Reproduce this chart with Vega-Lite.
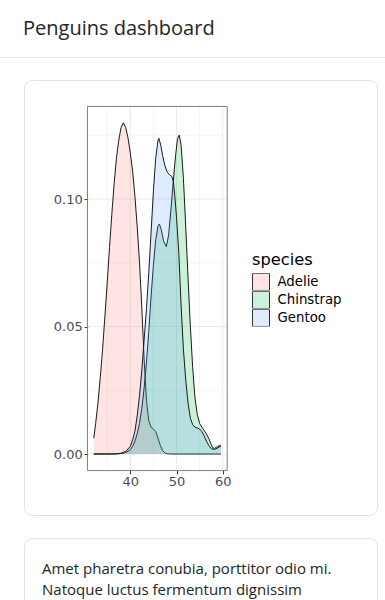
{
  "$schema": "https://vega.github.io/schema/vega-lite/v6.json",
  "background": "white",
  "padding": {"left": 0, "top": 19, "right": 0, "bottom": 0},
  "spacing": 21,
  "config": {"view": {"stroke": null}, "font": "DejaVu Sans"},
  "datasets": {
    "dens": [
      {"species": "Adelie", "x": 32.1, "density": 0.0062},
      {"species": "Adelie", "x": 32.5, "density": 0.012},
      {"species": "Adelie", "x": 33, "density": 0.02},
      {"species": "Adelie", "x": 33.5, "density": 0.03},
      {"species": "Adelie", "x": 34, "density": 0.041},
      {"species": "Adelie", "x": 34.5, "density": 0.054},
      {"species": "Adelie", "x": 35, "density": 0.067},
      {"species": "Adelie", "x": 35.5, "density": 0.081},
      {"species": "Adelie", "x": 36, "density": 0.094},
      {"species": "Adelie", "x": 36.5, "density": 0.106},
      {"species": "Adelie", "x": 37, "density": 0.116},
      {"species": "Adelie", "x": 37.5, "density": 0.123},
      {"species": "Adelie", "x": 38, "density": 0.128},
      {"species": "Adelie", "x": 38.5, "density": 0.1299},
      {"species": "Adelie", "x": 39, "density": 0.128},
      {"species": "Adelie", "x": 39.5, "density": 0.124},
      {"species": "Adelie", "x": 40, "density": 0.118},
      {"species": "Adelie", "x": 40.5, "density": 0.111},
      {"species": "Adelie", "x": 41, "density": 0.101},
      {"species": "Adelie", "x": 41.5, "density": 0.089},
      {"species": "Adelie", "x": 42, "density": 0.075},
      {"species": "Adelie", "x": 42.5, "density": 0.057},
      {"species": "Adelie", "x": 43, "density": 0.037},
      {"species": "Adelie", "x": 43.5, "density": 0.021},
      {"species": "Adelie", "x": 44, "density": 0.013},
      {"species": "Adelie", "x": 44.5, "density": 0.0105},
      {"species": "Adelie", "x": 45, "density": 0.0098},
      {"species": "Adelie", "x": 45.5, "density": 0.0088},
      {"species": "Adelie", "x": 46, "density": 0.0062},
      {"species": "Adelie", "x": 46.5, "density": 0.0033},
      {"species": "Adelie", "x": 47, "density": 0.0013},
      {"species": "Adelie", "x": 47.5, "density": 0.0004},
      {"species": "Adelie", "x": 48, "density": 0.0001},
      {"species": "Adelie", "x": 49, "density": 0},
      {"species": "Adelie", "x": 54, "density": 0},
      {"species": "Adelie", "x": 59.6, "density": 0},
      {"species": "Chinstrap", "x": 32.1, "density": 0},
      {"species": "Chinstrap", "x": 37, "density": 0},
      {"species": "Chinstrap", "x": 38, "density": 0.0002},
      {"species": "Chinstrap", "x": 39, "density": 0.0006},
      {"species": "Chinstrap", "x": 40, "density": 0.0017},
      {"species": "Chinstrap", "x": 40.5, "density": 0.003},
      {"species": "Chinstrap", "x": 41, "density": 0.005},
      {"species": "Chinstrap", "x": 41.5, "density": 0.008},
      {"species": "Chinstrap", "x": 42, "density": 0.012},
      {"species": "Chinstrap", "x": 42.5, "density": 0.018},
      {"species": "Chinstrap", "x": 43, "density": 0.026},
      {"species": "Chinstrap", "x": 43.5, "density": 0.036},
      {"species": "Chinstrap", "x": 44, "density": 0.048},
      {"species": "Chinstrap", "x": 44.5, "density": 0.062},
      {"species": "Chinstrap", "x": 45, "density": 0.074},
      {"species": "Chinstrap", "x": 45.5, "density": 0.084},
      {"species": "Chinstrap", "x": 46, "density": 0.0895},
      {"species": "Chinstrap", "x": 46.3, "density": 0.0902},
      {"species": "Chinstrap", "x": 46.7, "density": 0.088},
      {"species": "Chinstrap", "x": 47.2, "density": 0.0835},
      {"species": "Chinstrap", "x": 47.8, "density": 0.0813},
      {"species": "Chinstrap", "x": 48.3, "density": 0.086},
      {"species": "Chinstrap", "x": 48.8, "density": 0.096},
      {"species": "Chinstrap", "x": 49.3, "density": 0.107},
      {"species": "Chinstrap", "x": 49.8, "density": 0.117},
      {"species": "Chinstrap", "x": 50.2, "density": 0.1235},
      {"species": "Chinstrap", "x": 50.6, "density": 0.1251},
      {"species": "Chinstrap", "x": 51, "density": 0.121},
      {"species": "Chinstrap", "x": 51.5, "density": 0.108},
      {"species": "Chinstrap", "x": 52, "density": 0.089},
      {"species": "Chinstrap", "x": 52.5, "density": 0.069},
      {"species": "Chinstrap", "x": 53, "density": 0.05},
      {"species": "Chinstrap", "x": 53.5, "density": 0.034},
      {"species": "Chinstrap", "x": 54, "density": 0.022},
      {"species": "Chinstrap", "x": 54.5, "density": 0.0155},
      {"species": "Chinstrap", "x": 55, "density": 0.012},
      {"species": "Chinstrap", "x": 55.5, "density": 0.0105},
      {"species": "Chinstrap", "x": 56, "density": 0.0092},
      {"species": "Chinstrap", "x": 56.5, "density": 0.0078},
      {"species": "Chinstrap", "x": 57, "density": 0.006},
      {"species": "Chinstrap", "x": 57.5, "density": 0.0038},
      {"species": "Chinstrap", "x": 57.8, "density": 0.0025},
      {"species": "Chinstrap", "x": 58.2, "density": 0.0022},
      {"species": "Chinstrap", "x": 58.7, "density": 0.0027},
      {"species": "Chinstrap", "x": 59.2, "density": 0.0032},
      {"species": "Chinstrap", "x": 59.6, "density": 0.0035},
      {"species": "Gentoo", "x": 32.1, "density": 0},
      {"species": "Gentoo", "x": 36, "density": 0},
      {"species": "Gentoo", "x": 37, "density": 0.0001},
      {"species": "Gentoo", "x": 38, "density": 0.0003},
      {"species": "Gentoo", "x": 39, "density": 0.001},
      {"species": "Gentoo", "x": 40, "density": 0.003},
      {"species": "Gentoo", "x": 40.5, "density": 0.0055},
      {"species": "Gentoo", "x": 41, "density": 0.009},
      {"species": "Gentoo", "x": 41.5, "density": 0.015},
      {"species": "Gentoo", "x": 42, "density": 0.023},
      {"species": "Gentoo", "x": 42.5, "density": 0.033},
      {"species": "Gentoo", "x": 43, "density": 0.045},
      {"species": "Gentoo", "x": 43.5, "density": 0.057},
      {"species": "Gentoo", "x": 44, "density": 0.071},
      {"species": "Gentoo", "x": 44.5, "density": 0.087},
      {"species": "Gentoo", "x": 45, "density": 0.103},
      {"species": "Gentoo", "x": 45.5, "density": 0.116},
      {"species": "Gentoo", "x": 46, "density": 0.1232},
      {"species": "Gentoo", "x": 46.2, "density": 0.1238},
      {"species": "Gentoo", "x": 46.6, "density": 0.121},
      {"species": "Gentoo", "x": 47, "density": 0.117},
      {"species": "Gentoo", "x": 47.5, "density": 0.113},
      {"species": "Gentoo", "x": 48, "density": 0.1105},
      {"species": "Gentoo", "x": 48.5, "density": 0.1095},
      {"species": "Gentoo", "x": 49, "density": 0.1088},
      {"species": "Gentoo", "x": 49.3, "density": 0.107},
      {"species": "Gentoo", "x": 49.6, "density": 0.102},
      {"species": "Gentoo", "x": 50, "density": 0.093},
      {"species": "Gentoo", "x": 50.5, "density": 0.079},
      {"species": "Gentoo", "x": 51, "density": 0.058},
      {"species": "Gentoo", "x": 51.5, "density": 0.041},
      {"species": "Gentoo", "x": 52, "density": 0.029},
      {"species": "Gentoo", "x": 52.5, "density": 0.02},
      {"species": "Gentoo", "x": 53, "density": 0.014},
      {"species": "Gentoo", "x": 53.5, "density": 0.0115},
      {"species": "Gentoo", "x": 54, "density": 0.0105},
      {"species": "Gentoo", "x": 54.5, "density": 0.0102},
      {"species": "Gentoo", "x": 55, "density": 0.0098},
      {"species": "Gentoo", "x": 55.5, "density": 0.0088},
      {"species": "Gentoo", "x": 56, "density": 0.007},
      {"species": "Gentoo", "x": 56.5, "density": 0.005},
      {"species": "Gentoo", "x": 57, "density": 0.0033},
      {"species": "Gentoo", "x": 57.5, "density": 0.0022},
      {"species": "Gentoo", "x": 58, "density": 0.0018},
      {"species": "Gentoo", "x": 58.5, "density": 0.002},
      {"species": "Gentoo", "x": 59, "density": 0.0025},
      {"species": "Gentoo", "x": 59.6, "density": 0.003}
    ],
    "gxmaj": [{"v": 40}, {"v": 50}, {"v": 60}],
    "gxmin": [{"v": 35}, {"v": 45}, {"v": 55}],
    "gymaj": [{"v": 0}, {"v": 0.05}, {"v": 0.1}],
    "gymin": [{"v": 0.025}, {"v": 0.075}, {"v": 0.125}]
  },
  "vconcat": [
    {
      "width": 385,
      "height": 1,
      "view": {"fill": "#e6e6e6", "stroke": null},
      "title": {"text": "Penguins dashboard", "anchor": "start", "dx": 23, "fontSize": 20, "font": "Open Sans", "fontWeight": "normal", "color": "#212529", "baseline": "alphabetic", "offset": 2},
      "data": {"values": []},
      "mark": "text"
    },
    {
      "spacing": 22,
      "hconcat": [
        {"width": 1, "height": 1, "data": {"values": []}, "mark": "text"},
        {
          "width": 353,
          "height": 435,
          "view": {"fill": "white", "stroke": "#e2e2e2", "cornerRadius": 8},
          "layer": [
            {
              "data": {"name": "gxmin"},
              "mark": {"type": "rule", "color": "#ebebeb", "strokeWidth": 0.5},
              "encoding": {
                "x": {"field": "v", "type": "quantitative", "title": null, "scale": {"domain": [16.99, 93.4], "nice": false, "zero": false},
                  "axis": {"title": null, "values": [40, 50, 60], "orient": "bottom", "offset": -44.7, "domain": false, "grid": false, "ticks": true, "tickSize": 3.5, "tickColor": "#333333", "tickWidth": 1, "labelColor": "#4d4d4d", "labelFont": "DejaVu Sans", "labelFontSize": 13, "labelPadding": 2, "labelFlush": false, "labelOverlap": false}},
                "y": {"datum": -0.0065, "type": "quantitative", "title": null, "scale": {"domain": [-0.02392, 0.14667], "nice": false, "zero": false},
                  "axis": {"title": null, "values": [0, 0.05, 0.1], "format": ".2f", "orient": "left", "offset": -63.7, "domain": false, "grid": false, "ticks": true, "tickSize": 3.5, "tickColor": "#333333", "tickWidth": 1, "labelColor": "#4d4d4d", "labelFont": "DejaVu Sans", "labelFontSize": 13, "labelPadding": 2, "labelFlush": false, "labelOverlap": false}},
                "y2": {"datum": 0.1363}
              }
            },
            {
              "data": {"name": "gymin"},
              "mark": {"type": "rule", "color": "#ebebeb", "strokeWidth": 0.5},
              "encoding": {
                "y": {"field": "v", "type": "quantitative", "title": null},
                "x": {"datum": 30.725, "type": "quantitative", "title": null},
                "x2": {"datum": 60.975}
              }
            },
            {
              "data": {"name": "gxmaj"},
              "mark": {"type": "rule", "color": "#ebebeb", "strokeWidth": 1},
              "encoding": {
                "x": {"field": "v", "type": "quantitative", "title": null},
                "y": {"datum": -0.0065, "type": "quantitative", "title": null},
                "y2": {"datum": 0.1363}
              }
            },
            {
              "data": {"name": "gymaj"},
              "mark": {"type": "rule", "color": "#ebebeb", "strokeWidth": 1},
              "encoding": {
                "y": {"field": "v", "type": "quantitative", "title": null},
                "x": {"datum": 30.725, "type": "quantitative", "title": null},
                "x2": {"datum": 60.975}
              }
            },
            {
              "data": {"name": "dens"},
              "transform": [{"filter": "datum.species === 'Adelie'"}],
              "mark": {"type": "area"},
              "encoding": {
                "x": {"field": "x", "type": "quantitative", "title": null},
                "y": {"field": "density", "type": "quantitative", "title": null},
                "fill": {"field": "species", "type": "nominal", "scale": {"domain": ["Adelie", "Chinstrap", "Gentoo"], "range": ["rgba(248,118,109,0.2)", "rgba(0,186,56,0.2)", "rgba(97,156,255,0.2)"]},
                  "legend": {"orient": "none", "legendX": 252, "legendY": 195, "title": "species", "titleFont": "DejaVu Sans", "titleFontSize": 16.3, "titleFontWeight": "normal", "titleColor": "black", "titlePadding": 5, "labelFont": "DejaVu Sans", "labelFontSize": 13.3, "labelColor": "black", "labelOffset": 7.5, "symbolType": "square", "symbolSize": 289, "symbolStrokeColor": "#333333", "symbolStrokeWidth": 1, "rowPadding": 0, "clipHeight": 17.3, "symbolOpacity": 1}}
              }
            },
            {
              "data": {"name": "dens"},
              "transform": [{"filter": "datum.species === 'Adelie'"}],
              "mark": {"type": "line", "color": "#1a1a1a", "strokeWidth": 1},
              "encoding": {
                "x": {"field": "x", "type": "quantitative", "title": null},
                "y": {"field": "density", "type": "quantitative", "title": null}
              }
            },
            {
              "data": {"name": "dens"},
              "transform": [{"filter": "datum.species === 'Chinstrap'"}],
              "mark": {"type": "area"},
              "encoding": {
                "x": {"field": "x", "type": "quantitative", "title": null},
                "y": {"field": "density", "type": "quantitative", "title": null},
                "fill": {"field": "species", "type": "nominal", "legend": null}
              }
            },
            {
              "data": {"name": "dens"},
              "transform": [{"filter": "datum.species === 'Chinstrap'"}],
              "mark": {"type": "line", "color": "#1a1a1a", "strokeWidth": 1},
              "encoding": {
                "x": {"field": "x", "type": "quantitative", "title": null},
                "y": {"field": "density", "type": "quantitative", "title": null}
              }
            },
            {
              "data": {"name": "dens"},
              "transform": [{"filter": "datum.species === 'Gentoo'"}],
              "mark": {"type": "area"},
              "encoding": {
                "x": {"field": "x", "type": "quantitative", "title": null},
                "y": {"field": "density", "type": "quantitative", "title": null},
                "fill": {"field": "species", "type": "nominal", "legend": null}
              }
            },
            {
              "data": {"name": "dens"},
              "transform": [{"filter": "datum.species === 'Gentoo'"}],
              "mark": {"type": "line", "color": "#1a1a1a", "strokeWidth": 1},
              "encoding": {
                "x": {"field": "x", "type": "quantitative", "title": null},
                "y": {"field": "density", "type": "quantitative", "title": null}
              }
            },
            {
              "data": {"values": [{}]},
              "mark": {"type": "rect", "filled": false, "stroke": "#808080", "strokeWidth": 1},
              "encoding": {
                "x": {"datum": 30.725, "type": "quantitative", "title": null},
                "x2": {"datum": 60.975},
                "y": {"datum": -0.0065, "type": "quantitative", "title": null},
                "y2": {"datum": 0.1363}
              }
            }
          ]
        }
      ]
    },
    {
      "spacing": 22,
      "hconcat": [
        {"width": 1, "height": 1, "data": {"values": []}, "mark": "text"},
        {
          "width": 353,
          "height": 120,
          "view": {"fill": "white", "stroke": "#e2e2e2", "cornerRadius": 8},
          "title": {"text": ["Amet pharetra conubia, porttitor odio mi.", "Natoque luctus fermentum dignissim"], "anchor": "start", "dx": 18, "offset": -60, "font": "Open Sans", "fontSize": 15, "fontWeight": "normal", "color": "#212529", "lineHeight": 21.5},
          "data": {"values": []},
          "mark": "text"
        }
      ]
    }
  ]
}
